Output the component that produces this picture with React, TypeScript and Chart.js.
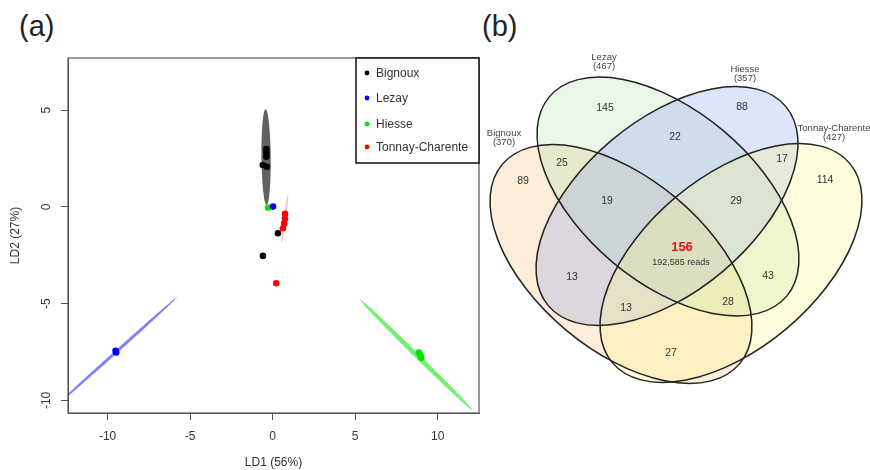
import React, { useEffect, useRef } from 'react';
import { Chart, registerables } from 'chart.js';

Chart.register(...registerables);

const FONT = '"Liberation Sans", Arial, Helvetica, sans-serif';

// ---------- Panel (a): LDA scores ----------
const groupNames = ['Bignoux', 'Lezay', 'Hiesse', 'Tonnay-Charente'];
const groupColors = ['#000000', '#0000ff', '#00e400', '#ff0000'];

const bignouxLD1 = [-0.38, -0.38, -0.38, -0.6, -0.35, 0.32, -0.59];
const bignouxLD2 = [3.0, 2.8, 2.6, 2.17, 2.08, -1.36, -2.53];
const lezayLD1 = [0.02, -9.52, -9.48];
const lezayLD2 = [0.02, -7.44, -7.52];
const hiesseLD1 = [-0.28, 8.86, 9.0, 8.95];
const hiesseLD2 = [-0.04, -7.53, -7.8, -7.66];
const tonnayLD1 = [0.75, 0.75, 0.7, 0.62, 0.22];
const tonnayLD2 = [-0.35, -0.6, -0.85, -1.1, -3.94];

// group ellipses: centre + semi-axis vectors (LD units)
const ellCenterLD1 = [-0.4, -9.5, 8.7, 0.73];
const ellCenterLD2 = [2.58, -7.5, -7.65, -0.63];
const ellMajorLD1 = [-0.03, 3.7, -3.4, 0.2];
const ellMajorLD2 = [2.48, 2.83, 2.85, 1.25];
const ellMinorLD1 = [0.28, 0.06, 0.1, 0.072];
const ellMinorLD2 = [0, -0.057, 0.088, -0.008];
const ellAlpha = [0.62, 0.5, 0.55, 0.25];

const xTickValues = [-10, -5, 0, 5, 10];
const yTickValues = [-10, -5, 0, 5];
const xTitle = 'LD1 (56%)';
const yTitle = 'LD2 (27%)';

// ---------- Panel (b): Venn diagram ----------
const vennSets = ['Bignoux', 'Lezay', 'Hiesse', 'Tonnay-Charente'];
const vennTotals = [370, 467, 357, 427];
const vennRegions = ['L', 'H', 'LH', 'BL', 'HT', 'B', 'T', 'BLH', 'LHT', 'BH', 'LT', 'BHT', 'BLT', 'BT', 'BLHT'];
const vennCounts = [145, 88, 22, 25, 17, 89, 114, 19, 29, 13, 43, 13, 28, 27, 156];
const coreReads = '192,585 reads';

// layout of the Venn (drawing units)
const vennLabelX = [605, 742, 675, 562, 782, 523, 825, 607, 736, 572, 768, 626, 728, 671, 682];
const vennLabelY = [108, 107, 137, 163, 159, 181, 180, 201, 201, 277, 276, 308, 302, 353, 247];
const vennEllX = [621, 668, 667, 731];
const vennEllY = [264, 196.5, 206, 263];
const vennEllAngle = [40, 40, -40, -40];
const vennEllA = 155;
const vennEllB = 86;
const vennFill = ['rgba(248,192,118,0.28)', 'rgba(176,224,172,0.28)', 'rgba(136,158,238,0.28)', 'rgba(255,248,138,0.28)'];
const vennCatX = [504, 604, 745, 834];
const vennCatY = [133, 57, 69, 128];

function hexAlpha(hex: string, a: number) {
  const r = parseInt(hex.slice(1, 3), 16);
  const g = parseInt(hex.slice(3, 5), 16);
  const b = parseInt(hex.slice(5, 7), 16);
  return `rgba(${r},${g},${b},${a})`;
}

function traceEllipse(ctx: CanvasRenderingContext2D, xs: any, ys: any, cx: number, cy: number, ux: number, uy: number, vx: number, vy: number) {
  const px = xs.getPixelForValue(cx);
  const py = ys.getPixelForValue(cy);
  const Ux = xs.getPixelForValue(cx + ux) - px;
  const Uy = ys.getPixelForValue(cy + uy) - py;
  const Vx = xs.getPixelForValue(cx + vx) - px;
  const Vy = ys.getPixelForValue(cy + vy) - py;
  ctx.save();
  ctx.beginPath();
  ctx.transform(Ux, Uy, Vx, Vy, px, py);
  ctx.arc(0, 0, 1, 0, Math.PI * 2);
  ctx.closePath();
  ctx.restore();
}

const ldaPlugin = {
  id: 'ldaDecor',
  beforeDatasetsDraw(chart: any) {
    const { ctx, chartArea: ca, scales } = chart;
    ctx.save();
    ctx.beginPath();
    ctx.rect(ca.left, ca.top, ca.right - ca.left, ca.bottom - ca.top);
    ctx.clip();
    for (let i = 0; i < ellCenterLD1.length; i++) {
      traceEllipse(ctx, scales.x, scales.y, ellCenterLD1[i], ellCenterLD2[i], ellMajorLD1[i], ellMajorLD2[i], ellMinorLD1[i], ellMinorLD2[i]);
      ctx.fillStyle = hexAlpha(groupColors[i], ellAlpha[i]);
      ctx.fill();
    }
    ctx.restore();
  },
  afterDraw(chart: any) {
    const { ctx, chartArea: ca, scales } = chart;
    ctx.save();
    // R-style box
    ctx.strokeStyle = '#555';
    ctx.lineWidth = 1.2;
    ctx.strokeRect(ca.left, ca.top, ca.right - ca.left, ca.bottom - ca.top);
    // rotated y tick labels
    ctx.fillStyle = '#333';
    ctx.font = `12px ${FONT}`;
    ctx.textAlign = 'center';
    ctx.textBaseline = 'middle';
    for (const t of scales.y.ticks) {
      const py = scales.y.getPixelForValue(t.value);
      ctx.save();
      ctx.translate(ca.left - 21, py);
      ctx.rotate(-Math.PI / 2);
      ctx.fillText(String(t.value), 0, 0);
      ctx.restore();
    }
    // legend box
    const lw = 123, lh = 105;
    const lx = ca.right - lw, ly = ca.top;
    ctx.fillStyle = '#fff';
    ctx.fillRect(lx, ly, lw, lh);
    ctx.strokeStyle = '#111';
    ctx.lineWidth = 1.5;
    ctx.strokeRect(lx, ly, lw, lh);
    ctx.textAlign = 'left';
    const rowY = [15, 40, 66, 89];
    chart.data.datasets.forEach((ds: any, i: number) => {
      const yy = ly + rowY[i];
      ctx.beginPath();
      ctx.fillStyle = ds.backgroundColor;
      ctx.arc(lx + 11, yy, 2.4, 0, Math.PI * 2);
      ctx.fill();
      ctx.fillStyle = '#333';
      ctx.fillText(ds.label, lx + 20, yy + 0.5);
    });
    ctx.restore();
  },
};

const vennPlugin = {
  id: 'vennDecor',
  beforeDatasetsDraw(chart: any) {
    const { ctx, scales } = chart;
    const ell = (i: number) => {
      const th = (vennEllAngle[i] * Math.PI) / 180;
      traceEllipse(ctx, scales.x, scales.y, vennEllX[i], vennEllY[i],
        vennEllA * Math.cos(th), vennEllA * Math.sin(th),
        -vennEllB * Math.sin(th), vennEllB * Math.cos(th));
    };
    ctx.save();
    for (let i = 0; i < vennSets.length; i++) {
      ell(i);
      ctx.fillStyle = vennFill[i];
      ctx.fill();
    }
    ctx.strokeStyle = '#222';
    ctx.lineWidth = 1.5;
    for (let i = 0; i < vennSets.length; i++) {
      ell(i);
      ctx.stroke();
    }
    ctx.restore();
  },
  afterDatasetsDraw(chart: any) {
    const { ctx, scales } = chart;
    const meta = chart.getDatasetMeta(0);
    ctx.save();
    ctx.textAlign = 'center';
    ctx.textBaseline = 'middle';
    meta.data.forEach((pt: any, i: number) => {
      if (vennRegions[i] === 'BLHT') {
        ctx.fillStyle = '#ee1111';
        ctx.font = `bold 13px ${FONT}`;
        ctx.fillText(String(vennCounts[i]), pt.x, pt.y);
        ctx.fillStyle = '#333';
        ctx.font = `9px ${FONT}`;
        ctx.fillText(coreReads, pt.x - 1, pt.y + 16);
      } else {
        ctx.fillStyle = '#333';
        ctx.font = `10.5px ${FONT}`;
        ctx.fillText(String(vennCounts[i]), pt.x, pt.y);
      }
    });
    ctx.fillStyle = '#444';
    ctx.font = `9.5px ${FONT}`;
    for (let i = 0; i < vennSets.length; i++) {
      const px = scales.x.getPixelForValue(vennCatX[i]);
      const py = scales.y.getPixelForValue(vennCatY[i]);
      ctx.fillText(vennSets[i], px, py);
      ctx.fillText(`(${vennTotals[i]})`, px, py + 9);
    }
    ctx.restore();
  },
};

export default function App() {
  const ldaRef = useRef<HTMLCanvasElement>(null);
  const vennRef = useRef<HTMLCanvasElement>(null);

  useEffect(() => {
    const xs = [bignouxLD1, lezayLD1, hiesseLD1, tonnayLD1];
    const ys = [bignouxLD2, lezayLD2, hiesseLD2, tonnayLD2];
    const lda = new Chart(ldaRef.current as HTMLCanvasElement, {
      type: 'scatter',
      data: {
        datasets: groupNames.map((name, i) => ({
          label: name,
          data: xs[i].map((x, j) => ({ x, y: ys[i][j] })),
          backgroundColor: groupColors[i],
          borderWidth: 0,
          pointRadius: 3.3,
          pointHoverRadius: 3.3,
        })),
      },
      options: {
        animation: false,
        responsive: false,
        events: [],
        layout: { padding: { top: 58, right: 6, bottom: 0, left: 0 } },
        plugins: { legend: { display: false }, tooltip: { enabled: false } },
        scales: {
          x: {
            type: 'linear',
            min: -12.4,
            max: 12.5,
            afterBuildTicks: (s: any) => { s.ticks = xTickValues.map((v) => ({ value: v })); },
            afterFit: (s: any) => { s.height = 57; },
            ticks: { color: '#333', font: { family: FONT, size: 12 }, padding: 9, maxRotation: 0 },
            grid: { drawOnChartArea: false, drawTicks: true, tickLength: 7, color: '#555' },
            border: { display: true, color: '#555' },
            title: { display: true, text: xTitle, color: '#333', font: { family: FONT, size: 12 }, padding: { top: 0, bottom: 0 } },
          },
          y: {
            type: 'linear',
            min: -10.65,
            max: 7.7,
            afterBuildTicks: (s: any) => { s.ticks = yTickValues.map((v) => ({ value: v })); },
            afterFit: (s: any) => { s.width = 68; },
            ticks: { display: false },
            grid: { drawOnChartArea: false, drawTicks: true, tickLength: 7, color: '#555' },
            border: { display: true, color: '#555' },
            title: { display: true, text: yTitle, color: '#333', font: { family: FONT, size: 12 }, padding: { top: 8, bottom: 0 } },
          },
        },
      } as any,
      plugins: [ldaPlugin],
    });

    const venn = new Chart(vennRef.current as HTMLCanvasElement, {
      type: 'scatter',
      data: {
        datasets: [{
          label: 'regions',
          data: vennLabelX.map((x, i) => ({ x, y: vennLabelY[i] })),
          pointRadius: 0,
          pointHoverRadius: 0,
        }],
      },
      options: {
        animation: false,
        responsive: false,
        events: [],
        layout: { padding: 0 },
        plugins: { legend: { display: false }, tooltip: { enabled: false } },
        scales: {
          x: { type: 'linear', min: 485, max: 870, display: false },
          y: { type: 'linear', min: 0, max: 470, reverse: true, display: false },
        },
      } as any,
      plugins: [vennPlugin],
    });

    return () => { lda.destroy(); venn.destroy(); };
  }, []);

  return (
    <div style={{ position: 'absolute', left: 0, top: 0, width: 870, height: 470, background: '#fff', overflow: 'hidden', fontFamily: FONT }}>
      <div style={{ position: 'absolute', left: 19, top: 8, fontSize: 29, lineHeight: '36px', color: '#222' }}>(a)</div>
      <div style={{ position: 'absolute', left: 482, top: 8, fontSize: 29, lineHeight: '36px', color: '#222' }}>(b)</div>
      <canvas ref={ldaRef} width={485} height={470} style={{ position: 'absolute', left: 0, top: 0, width: 485, height: 470 }} />
      <canvas ref={vennRef} width={385} height={470} style={{ position: 'absolute', left: 485, top: 0, width: 385, height: 470 }} />
    </div>
  );
}
